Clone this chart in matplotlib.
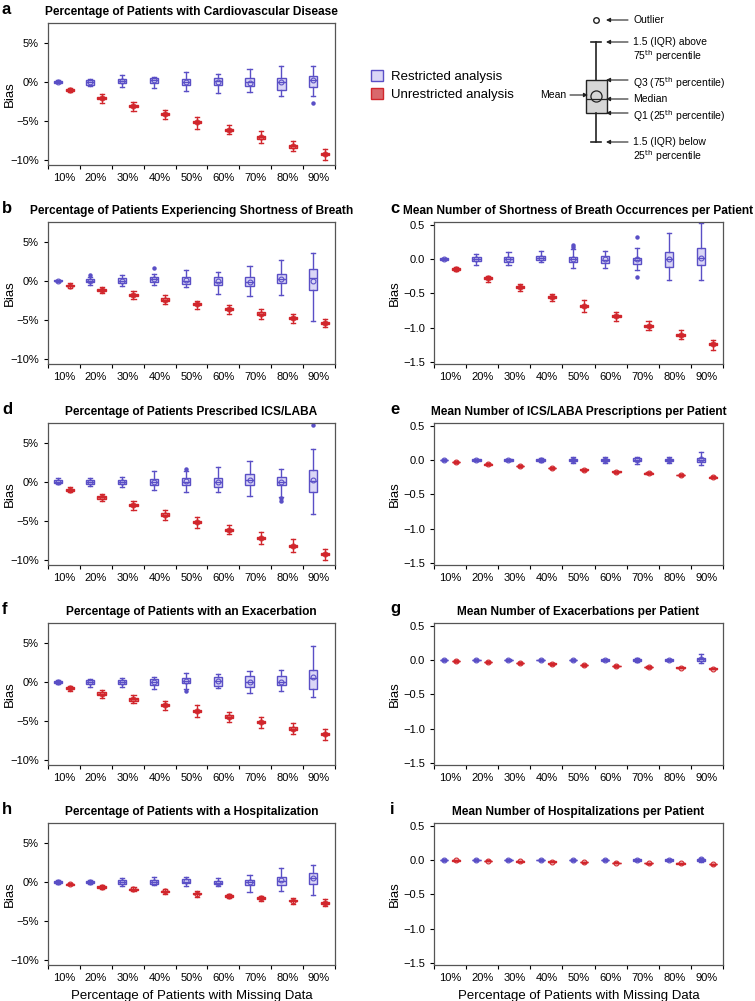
import matplotlib
matplotlib.use("Agg")
import matplotlib.pyplot as plt
from matplotlib.patches import Patch
from matplotlib.ticker import FixedLocator, FuncFormatter
import numpy as np

plt.rcParams['font.family'] = ['Liberation Sans', 'DejaVu Sans']

categories = ["10%", "20%", "30%", "40%", "50%", "60%", "70%", "80%", "90%"]

# restricted rows: [whisker low, Q1, median, Q3, whisker high, mean]
# unrestricted rows: [whisker low, Q1, median, Q3, whisker high]
a_res = [[-0.15, -0.08, 0.0, 0.08, 0.3, 0.0],
         [-0.5, -0.4, -0.05, 0.26, 0.43, 0.0],
         [-0.6, -0.17, 0.1, 0.4, 0.95, 0.1],
         [-0.8, -0.1, 0.2, 0.5, 0.7, 0.2],
         [-1.2, -0.4, 0.0, 0.35, 1.3, 0.0],
         [-1.4, -0.45, 0.1, 0.45, 1.05, 0.0],
         [-1.35, -0.5, 0.0, 0.45, 1.65, -0.1],
         [-1.75, -1.05, 0.0, 0.55, 2.1, 0.0],
         [-1.85, -0.6, 0.2, 0.8, 2.1, 0.2]]
a_res_out = [[], [], [], [], [], [], [], [], [-2.7]]
a_unr = [[-1.3, -1.15, -1.05, -0.95, -0.8],
         [-2.7, -2.25, -2.1, -1.95, -1.6],
         [-3.75, -3.25, -3.1, -2.95, -2.6],
         [-4.8, -4.25, -4.1, -3.95, -3.6],
         [-6.0, -5.3, -5.15, -5.0, -4.45],
         [-6.7, -6.3, -6.15, -6.0, -5.6],
         [-7.9, -7.3, -7.15, -7.0, -6.3],
         [-8.9, -8.45, -8.3, -8.15, -7.6],
         [-10.0, -9.45, -9.3, -9.15, -8.6]]

b_res = [[-0.1, -0.05, 0.05, 0.1, 0.15, 0.05],
         [-0.5, -0.17, 0.0, 0.25, 0.55, 0.0],
         [-0.6, -0.3, 0.0, 0.35, 0.8, 0.0],
         [-0.5, -0.1, 0.2, 0.45, 0.9, 0.2],
         [-0.75, -0.35, 0.0, 0.5, 1.4, 0.1],
         [-1.7, -0.5, -0.1, 0.5, 1.2, -0.05],
         [-1.95, -0.7, -0.1, 0.45, 1.9, -0.1],
         [-1.75, -0.3, 0.25, 0.85, 2.65, 0.2],
         [-5.1, -1.1, 0.4, 1.5, 3.6, 0.0]]
b_res_out = [[], [0.75], [], [1.65], [], [], [], [], []]
b_unr = [[-0.85, -0.7, -0.6, -0.5, -0.3],
         [-1.55, -1.3, -1.15, -1.0, -0.8],
         [-2.3, -2.0, -1.85, -1.7, -1.3],
         [-2.95, -2.55, -2.4, -2.25, -1.8],
         [-3.55, -3.15, -3.0, -2.85, -2.55],
         [-4.2, -3.75, -3.6, -3.45, -3.15],
         [-4.9, -4.35, -4.2, -4.05, -3.65],
         [-5.4, -4.95, -4.8, -4.65, -4.2],
         [-5.9, -5.55, -5.4, -5.25, -4.85]]

c_res = [[-0.02, -0.01, 0.0, 0.01, 0.02, 0.0],
         [-0.08, -0.03, 0.0, 0.035, 0.07, 0.0],
         [-0.08, -0.04, 0.0, 0.035, 0.1, 0.0],
         [-0.05, -0.02, 0.01, 0.045, 0.11, 0.01],
         [-0.13, -0.05, -0.005, 0.025, 0.15, 0.0],
         [-0.13, -0.06, -0.01, 0.05, 0.12, 0.0],
         [-0.165, -0.07, -0.01, 0.02, 0.165, 0.0],
         [-0.3, -0.11, 0.0, 0.1, 0.38, 0.0],
         [-0.3, -0.08, 0.01, 0.165, 0.52, 0.02]]
c_res_out = [[], [], [], [], [0.2, 0.18], [], [0.32, -0.26], [], []]
c_unr = [[-0.175, -0.155, -0.145, -0.135, -0.12],
         [-0.33, -0.285, -0.27, -0.255, -0.24],
         [-0.46, -0.425, -0.41, -0.395, -0.36],
         [-0.61, -0.57, -0.555, -0.54, -0.51],
         [-0.77, -0.705, -0.69, -0.675, -0.6],
         [-0.9, -0.85, -0.835, -0.82, -0.77],
         [-1.04, -0.985, -0.97, -0.955, -0.9],
         [-1.17, -1.125, -1.11, -1.095, -1.04],
         [-1.33, -1.26, -1.245, -1.23, -1.175]]

d_res = [[-0.3, -0.17, 0.05, 0.3, 0.55, 0.05],
         [-0.55, -0.2, -0.05, 0.2, 0.45, -0.05],
         [-0.65, -0.3, 0.0, 0.3, 0.65, 0.0],
         [-1.0, -0.45, -0.05, 0.35, 1.35, -0.05],
         [-1.25, -0.35, 0.05, 0.45, 1.4, 0.1],
         [-1.25, -0.7, -0.05, 0.5, 1.9, -0.05],
         [-1.8, -0.45, 0.2, 1.0, 2.65, 0.3],
         [-1.95, -0.4, 0.05, 0.65, 1.65, 0.05],
         [-4.1, -1.3, 0.15, 1.5, 4.2, 0.3]]
d_res_out = [[], [], [], [], [1.7], [], [], [-2.1, -2.4], [7.3]]
d_unr = [[-1.3, -1.15, -1.0, -0.85, -0.65],
         [-2.5, -2.15, -2.0, -1.85, -1.55],
         [-3.65, -3.15, -3.0, -2.85, -2.45],
         [-4.85, -4.35, -4.2, -4.05, -3.55],
         [-5.9, -5.3, -5.15, -5.0, -4.5],
         [-6.75, -6.3, -6.15, -6.0, -5.5],
         [-7.95, -7.35, -7.2, -7.05, -6.4],
         [-9.05, -8.4, -8.25, -8.1, -7.4],
         [-10.05, -9.4, -9.25, -9.1, -8.6]]

e_res = [[-0.01, -0.005, 0.0, 0.005, 0.01, 0.0],
         [-0.015, -0.008, 0.0, 0.008, 0.015, 0.0],
         [-0.015, -0.008, 0.0, 0.008, 0.015, 0.0],
         [-0.03, -0.015, 0.0, 0.015, 0.03, 0.0],
         [-0.04, -0.02, 0.0, 0.02, 0.05, 0.0],
         [-0.05, -0.02, 0.0, 0.02, 0.04, 0.0],
         [-0.06, -0.02, 0.0, 0.03, 0.05, 0.0],
         [-0.05, -0.02, 0.0, 0.02, 0.04, 0.0],
         [-0.07, -0.035, 0.0, 0.035, 0.12, 0.01]]
e_unr = [[-0.045, -0.035, -0.03, -0.025, -0.015],
         [-0.075, -0.065, -0.06, -0.055, -0.045],
         [-0.1, -0.09, -0.085, -0.08, -0.07],
         [-0.13, -0.12, -0.115, -0.11, -0.1],
         [-0.155, -0.145, -0.14, -0.135, -0.125],
         [-0.185, -0.175, -0.17, -0.165, -0.155],
         [-0.21, -0.2, -0.195, -0.19, -0.18],
         [-0.235, -0.225, -0.22, -0.215, -0.205],
         [-0.265, -0.255, -0.25, -0.245, -0.235]]

f_res = [[-0.2, -0.1, 0.0, 0.1, 0.2, 0.0],
         [-0.6, -0.2, -0.05, 0.25, 0.4, 0.0],
         [-0.6, -0.2, 0.0, 0.3, 0.45, 0.05],
         [-0.85, -0.35, 0.0, 0.35, 0.65, 0.0],
         [-0.9, -0.15, 0.15, 0.5, 1.2, 0.15],
         [-0.8, -0.5, 0.1, 0.65, 1.05, 0.1],
         [-1.4, -0.7, -0.05, 0.75, 1.4, -0.05],
         [-1.2, -0.4, 0.05, 0.8, 1.6, 0.05],
         [-2.0, -0.95, 0.55, 1.6, 4.65, 0.65]]
f_res_out = [[], [], [], [], [-1.1], [], [], [], []]
f_unr = [[-1.1, -0.9, -0.75, -0.6, -0.5],
         [-2.05, -1.65, -1.5, -1.35, -1.05],
         [-2.75, -2.4, -2.25, -2.1, -1.7],
         [-3.6, -3.15, -3.0, -2.85, -2.4],
         [-4.5, -3.85, -3.7, -3.55, -3.0],
         [-5.1, -4.6, -4.45, -4.3, -3.85],
         [-5.9, -5.35, -5.2, -5.05, -4.55],
         [-6.7, -6.15, -6.0, -5.85, -5.35],
         [-7.45, -6.85, -6.7, -6.55, -6.1]]

g_res = [[-0.01, -0.005, 0.0, 0.005, 0.01, 0.0],
         [-0.01, -0.005, 0.0, 0.005, 0.01, 0.0],
         [-0.01, -0.005, 0.0, 0.005, 0.01, 0.0],
         [-0.01, -0.005, 0.0, 0.005, 0.01, 0.0],
         [-0.01, -0.005, 0.0, 0.005, 0.01, 0.0],
         [-0.02, -0.01, 0.0, 0.01, 0.02, 0.0],
         [-0.025, -0.015, 0.0, 0.015, 0.025, 0.0],
         [-0.015, -0.008, 0.0, 0.008, 0.015, 0.0],
         [-0.05, -0.02, 0.01, 0.03, 0.09, 0.02]]
g_unr = [[-0.025, -0.02, -0.015, -0.01, -0.005],
         [-0.04, -0.035, -0.03, -0.025, -0.02],
         [-0.055, -0.05, -0.045, -0.04, -0.035],
         [-0.065, -0.06, -0.055, -0.05, -0.045],
         [-0.08, -0.075, -0.07, -0.065, -0.06],
         [-0.095, -0.09, -0.085, -0.08, -0.075],
         [-0.11, -0.105, -0.1, -0.095, -0.09],
         [-0.12, -0.115, -0.11, -0.105, -0.1],
         [-0.135, -0.13, -0.125, -0.12, -0.115]]

h_res = [[-0.25, -0.1, 0.0, 0.1, 0.25, 0.0],
         [-0.25, -0.15, 0.0, 0.15, 0.25, 0.0],
         [-0.55, -0.25, 0.0, 0.3, 0.55, 0.0],
         [-0.45, -0.2, 0.0, 0.25, 0.6, 0.05],
         [-0.55, -0.17, 0.05, 0.4, 0.7, 0.1],
         [-0.5, -0.3, -0.1, 0.15, 0.45, -0.1],
         [-1.25, -0.45, 0.0, 0.3, 0.9, -0.05],
         [-1.2, -0.35, 0.15, 0.7, 1.8, 0.25],
         [-1.7, -0.25, 0.45, 1.15, 2.15, 0.45]]
h_unr = [[-0.45, -0.35, -0.3, -0.25, -0.15],
         [-0.85, -0.72, -0.65, -0.58, -0.45],
         [-1.2, -1.05, -0.95, -0.85, -0.65],
         [-1.55, -1.3, -1.2, -1.1, -0.85],
         [-1.9, -1.6, -1.5, -1.4, -1.1],
         [-2.1, -1.9, -1.8, -1.7, -1.5],
         [-2.5, -2.2, -2.1, -2.0, -1.75],
         [-2.8, -2.5, -2.4, -2.3, -2.05],
         [-3.1, -2.8, -2.7, -2.6, -2.25]]

i_res = [[-0.008, -0.004, 0.0, 0.004, 0.008, 0.0],
         [-0.008, -0.004, 0.0, 0.004, 0.008, 0.0],
         [-0.008, -0.004, 0.0, 0.004, 0.008, 0.0],
         [-0.008, -0.004, 0.0, 0.004, 0.008, 0.0],
         [-0.01, -0.005, 0.0, 0.005, 0.01, 0.0],
         [-0.01, -0.005, 0.0, 0.005, 0.01, 0.0],
         [-0.015, -0.008, 0.0, 0.008, 0.015, 0.0],
         [-0.015, -0.008, 0.0, 0.008, 0.015, 0.0],
         [-0.03, -0.02, 0.0, 0.02, 0.035, 0.01]]
i_unr = [[-0.013, -0.009, -0.005, -0.001, 0.003],
         [-0.02, -0.016, -0.012, -0.008, -0.004],
         [-0.026, -0.022, -0.018, -0.014, -0.01],
         [-0.033, -0.029, -0.025, -0.021, -0.017],
         [-0.038, -0.034, -0.03, -0.026, -0.022],
         [-0.048, -0.044, -0.04, -0.036, -0.032],
         [-0.053, -0.049, -0.045, -0.041, -0.037],
         [-0.058, -0.054, -0.05, -0.046, -0.042],
         [-0.068, -0.064, -0.06, -0.056, -0.052]]

res_edge = '#5a4fc6'
res_fill = '#dad6f6'
unr_edge = '#d1262c'
unr_fill = '#e48a8d'

W, H = 755, 1001


def px_rect(left, top, right, bottom):
    # pixel box -> figure fraction
    return [left / W, 1 - bottom / H, (right - left) / W, (bottom - top) / H]


def make_stats(rows, outs=None):
    stats = []
    for k, r in enumerate(rows):
        stats.append(dict(whislo=r[0], q1=r[1], med=r[2], q3=r[3], whishi=r[4],
                          mean=r[5] if len(r) > 5 else r[2],
                          fliers=outs[k] if outs else []))
    return stats


def draw_boxes(ax, stats, pos, edge, fill):
    ax.bxp(stats, positions=pos, widths=0.26, patch_artist=True, showmeans=True,
           manage_ticks=False,
           boxprops=dict(facecolor=fill, edgecolor=edge, linewidth=1.0),
           whiskerprops=dict(color=edge, linewidth=1.0),
           capprops=dict(color=edge, linewidth=1.0),
           medianprops=dict(color=edge, linewidth=1.0),
           meanprops=dict(marker='o', markerfacecolor='none', markeredgecolor=edge,
                          markersize=3.5, markeredgewidth=0.8),
           flierprops=dict(marker='o', markerfacecolor=edge, markeredgecolor=edge,
                           markersize=2.2))


def minus(s):
    return s.replace('-', '\u2212')


def panel(fig, rect, letter, title, res, res_out, unr, kind, xlabel):
    ax = fig.add_axes(rect)
    x = np.arange(1, len(categories) + 1)
    draw_boxes(ax, make_stats(res, res_out), x - 0.18, res_edge, res_fill)
    draw_boxes(ax, make_stats(unr), x + 0.18, unr_edge, unr_fill)
    ax.set_xlim(0.5, len(categories) + 0.5)
    ax.set_xticks(x)
    ax.set_xticklabels(categories, fontsize=8)
    ax.xaxis.set_minor_locator(FixedLocator(np.arange(0.5, len(categories) + 1, 1.0)))
    ax.tick_params(axis='x', which='major', length=0, pad=6)
    ax.tick_params(axis='x', which='minor', length=3, width=0.8, direction='out')
    ax.tick_params(axis='y', length=3, width=0.8, direction='out', labelsize=8)
    if kind == 'pct':
        ax.set_ylim(-10.7, 7.6)
        ax.set_yticks([-10, -5, 0, 5])
        ax.yaxis.set_major_formatter(FuncFormatter(lambda v, p: minus('%d%%' % v)))
    else:
        ax.set_ylim(-1.53, 0.54)
        ax.set_yticks([-1.5, -1.0, -0.5, 0.0, 0.5])
        ax.yaxis.set_major_formatter(FuncFormatter(lambda v, p: minus('%.1f' % v)))
    for s in ax.spines.values():
        s.set_color('#555555')
        s.set_linewidth(0.9)
    ax.set_ylabel('Bias', fontsize=9.5)
    ax.yaxis.set_label_coords(-0.113, 0.5)
    ax.set_title(title, fontsize=8.6, fontweight='bold', pad=6)
    if xlabel:
        ax.set_xlabel('Percentage of Patients with Missing Data', fontsize=9.5, labelpad=5)
    bb = rect
    fig.text(bb[0] - (46 if bb[0] < 0.3 else 44) / W, bb[1] + bb[3] + 14 / H, letter,
             fontsize=12, fontweight='bold', ha='left', va='center')
    return ax


def box_key(fig):
    # explanation of the box plot symbols, drawn in its own pixel-like frame
    ax = fig.add_axes(px_rect(520, 5, 755, 165))
    ax.set_xlim(0, 235)
    ax.set_ylim(160, 0)
    ax.axis('off')
    key = [dict(whislo=137, q1=108, med=94, q3=75, whishi=37, mean=91, fliers=[15])]
    ax.bxp(key, positions=[76], widths=[21], capwidths=[10], patch_artist=True,
           showmeans=True, manage_ticks=False,
           boxprops=dict(facecolor='#d6d6d6', edgecolor='#222222', linewidth=1.0),
           whiskerprops=dict(color='#222222', linewidth=1.2),
           capprops=dict(color='#222222', linewidth=1.2),
           medianprops=dict(color='#222222', linewidth=0.9),
           meanprops=dict(marker='o', markerfacecolor='none', markeredgecolor='#222222',
                          markersize=8, markeredgewidth=0.9),
           flierprops=dict(marker='o', markerfacecolor='none', markeredgecolor='#222222',
                           markersize=4))
    labels = [(15, 'Outlier'),
              (37, '1.5 (IQR) above\n75$^{\\mathrm{th}}$ percentile'),
              (75, 'Q3 (75$^{\\mathrm{th}}$ percentile)'),
              (94, 'Median'),
              (108, 'Q1 (25$^{\\mathrm{th}}$ percentile)'),
              (137, '1.5 (IQR) below\n25$^{\\mathrm{th}}$ percentile')]
    arrow = dict(arrowstyle='-|>', color='#222222', lw=0.8, mutation_scale=6,
                 shrinkA=0, shrinkB=0)
    for y, txt in labels:
        ax.annotate('', xy=(86, y), xytext=(108, y), arrowprops=arrow)
        ax.text(113, y - 5, txt, fontsize=7.5, va='top', ha='left', linespacing=1.1)
    ax.annotate('', xy=(68, 90), xytext=(50, 90), arrowprops=arrow)
    ax.text(46, 90, 'Mean', fontsize=7.5, va='center', ha='right')


def main():
    fig = plt.figure(figsize=(W / 100, H / 100), dpi=100)
    tops = [23, 222, 423, 623, 823]
    L = (48, 335)
    R = (434, 723)
    panel(fig, px_rect(L[0], tops[0], L[1], tops[0] + 142), 'a',
          'Percentage of Patients with Cardiovascular Disease', a_res, a_res_out, a_unr, 'pct', False)
    panel(fig, px_rect(L[0], tops[1], L[1], tops[1] + 142), 'b',
          'Percentage of Patients Experiencing Shortness of Breath', b_res, b_res_out, b_unr, 'pct', False)
    panel(fig, px_rect(R[0], tops[1], R[1], tops[1] + 142), 'c',
          'Mean Number of Shortness of Breath Occurrences per Patient', c_res, c_res_out, c_unr, 'mean', False)
    panel(fig, px_rect(L[0], tops[2], L[1], tops[2] + 142), 'd',
          'Percentage of Patients Prescribed ICS/LABA', d_res, d_res_out, d_unr, 'pct', False)
    panel(fig, px_rect(R[0], tops[2], R[1], tops[2] + 142), 'e',
          'Mean Number of ICS/LABA Prescriptions per Patient', e_res, None, e_unr, 'mean', False)
    panel(fig, px_rect(L[0], tops[3], L[1], tops[3] + 142), 'f',
          'Percentage of Patients with an Exacerbation', f_res, f_res_out, f_unr, 'pct', False)
    panel(fig, px_rect(R[0], tops[3], R[1], tops[3] + 142), 'g',
          'Mean Number of Exacerbations per Patient', g_res, None, g_unr, 'mean', False)
    panel(fig, px_rect(L[0], tops[4], L[1], tops[4] + 142), 'h',
          'Percentage of Patients with a Hospitalization', h_res, None, h_unr, 'pct', True)
    panel(fig, px_rect(R[0], tops[4], R[1], tops[4] + 142), 'i',
          'Mean Number of Hospitalizations per Patient', i_res, None, i_unr, 'mean', True)

    # legend
    handles = [Patch(facecolor=res_fill, edgecolor=res_edge, linewidth=1.0, label='Restricted analysis'),
               Patch(facecolor='#d9686c', edgecolor=unr_edge, linewidth=1.0, label='Unrestricted analysis')]
    fig.legend(handles=handles, loc='upper left', bbox_to_anchor=(366 / W, 1 - 65 / H),
               frameon=False, fontsize=9.5, handlelength=0.9, handleheight=0.9,
               handletextpad=0.6, labelspacing=0.35, borderaxespad=0)

    box_key(fig)
    fig.savefig('out.png', dpi=100)


if __name__ == '__main__':
    main()
